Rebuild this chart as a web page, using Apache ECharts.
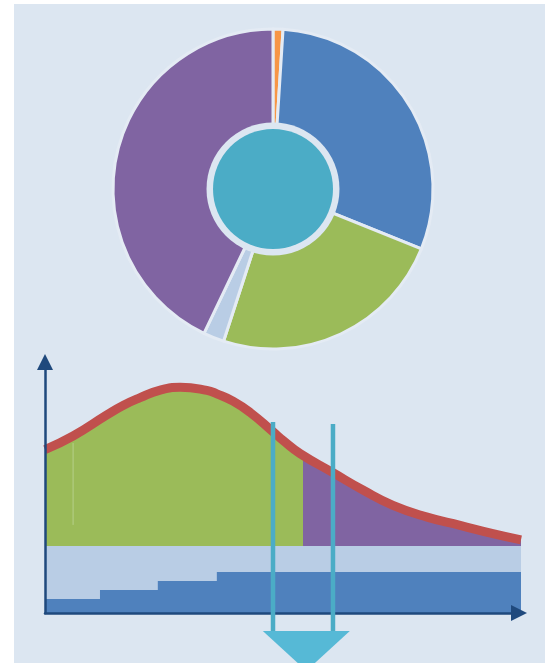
<!DOCTYPE html>
<html>
<head>
<meta charset="utf-8">
<script src="https://cdn.jsdelivr.net/npm/echarts@6/dist/echarts.min.js"></script>
<style>
  html, body { margin: 0; padding: 0; background: #ffffff; }
  #chart { width: 545px; height: 663px; }
</style>
</head>
<body>
<div id="chart"></div>
<script>
// Ring chart shares (percent of the full circle, clockwise from 12 o'clock)
const sliceNames = ['Segment A', 'Segment B', 'Segment C', 'Segment D', 'Segment E'];
const sliceValues = [1.0, 30.1, 23.9, 2.1, 42.9];

// Distribution curve (x on a 0-100 scale, y on a 0-100 scale)
const curveX = [0, 5.9, 13.0, 16.4, 20.0, 24.2, 28.4, 34.0, 36.1, 39.5, 43.1, 47.9, 50.1, 53.6, 60.5, 66.8, 73.1, 80.3, 87.2, 94.1, 100];
const curveY = [65.1, 70.5, 78.9, 82.7, 85.8, 88.8, 89.9, 88.7, 87.3, 84.4, 79.9, 72.2, 68.6, 63.5, 55.9, 49.0, 42.9, 38.2, 34.9, 31.6, 29.1];
const splitX = 54.2;            // where the fill changes from green to purple

// Base band and the stepped level beneath the curve
const bandLevel = 26.7;
const stepX = [0, 11.55, 23.7, 36.1, 100];
const stepY = [5.6, 9.2, 12.7, 16.3, 16.3];

// Guide line inside the fill
const guideX = 5.9;
const guideRange = [67.7, 35.1];

// Vertical markers and the pointer below the axis
const markerX = [47.9, 60.5];
const markerTop = [76.1, 75.3];
const markerBottom = -7.6;
const pointerAt = [54.9, -15.1];

const palette = {
  bg: '#DCE6F1',
  gap: '#E4EBF4',
  slices: ['#F79646', '#4F81BD', '#9BBB59', '#B9CDE5', '#8064A2'],
  teal: '#4BACC6',
  pointer: '#56B9D6',
  red: '#C0504D',
  green: '#9BBB59',
  purple: '#8064A2',
  lightBlue: '#B9CDE5',
  blue: '#4F81BD',
  axis: '#1F497D',
  guide: '#B6D08A'
};

const X_MIN = 0, X_MAX = 100;
const SMOOTH = 0.5;
const curveData = curveX.map((x, i) => [x, curveY[i]]);
const stepData = stepX.map((x, i) => [x, stepY[i]]);

// Horizontal fill: green up to splitX, purple after it (offset relative to the area's own box)
const splitOffset = (splitX - X_MIN) / (X_MAX - X_MIN);
const areaFill = new echarts.graphic.LinearGradient(0, 0, 1, 0, [
  { offset: 0, color: palette.green },
  { offset: splitOffset, color: palette.green },
  { offset: splitOffset, color: palette.purple },
  { offset: 1, color: palette.purple }
]);

const chart = echarts.init(document.getElementById('chart'), null, { renderer: 'canvas' });

const axisLineStyle = { color: palette.axis, width: 2.5 };

chart.setOption({
  animation: false,
  backgroundColor: '#ffffff',
  graphic: [{
    type: 'rect',
    left: 14, top: 4, z: -10, silent: true,
    shape: { width: 531, height: 659 },
    style: { fill: palette.bg }
  }],
  grid: { left: 45, right: 24, top: 362, bottom: 50, outerBoundsMode: 'none' },
  xAxis: {
    type: 'value', min: X_MIN, max: X_MAX, z: 10,
    axisLine: { show: true, onZero: false, lineStyle: axisLineStyle, symbol: ['none', 'triangle'], symbolSize: [16, 16], symbolOffset: [0, -2] },
    axisTick: { show: false }, axisLabel: { show: false }, splitLine: { show: false }
  },
  yAxis: {
    type: 'value', min: 0, max: 100, z: 10,
    axisLine: { show: true, onZero: false, lineStyle: axisLineStyle, symbol: ['none', 'triangle'], symbolSize: [16, 16] },
    axisTick: { show: false }, axisLabel: { show: false }, splitLine: { show: false }
  },
  series: [
    // Ring chart
    {
      type: 'pie', center: [273, 189], radius: [0, 160],
      startAngle: 90, clockwise: true, silent: true,
      label: { show: false }, labelLine: { show: false },
      itemStyle: { borderColor: palette.gap, borderWidth: 3 },
      data: sliceNames.map((n, i) => ({ name: n, value: sliceValues[i], itemStyle: { color: palette.slices[i] } }))
    },
    // Hub: light collar and teal disc
    {
      type: 'pie', center: [273, 189], radius: [0, 66.5], silent: true,
      label: { show: false }, labelLine: { show: false },
      data: [{ value: 1, itemStyle: { color: palette.bg } }]
    },
    {
      type: 'pie', center: [273, 189], radius: [0, 60], silent: true,
      label: { show: false }, labelLine: { show: false },
      data: [{ value: 1, itemStyle: { color: palette.teal } }]
    },
    // Filled area under the curve
    {
      type: 'line', data: curveData, smooth: SMOOTH, showSymbol: false, silent: true, z: 2,
      lineStyle: { width: 0 },
      areaStyle: { color: areaFill, opacity: 1 }
    },
    // Guide line inside the fill
    {
      type: 'line', data: [[guideX, guideRange[0]], [guideX, guideRange[1]]],
      showSymbol: false, silent: true, z: 3,
      lineStyle: { color: palette.guide, width: 1 }
    },
    // Base band
    {
      type: 'line', data: [[X_MIN, bandLevel], [X_MAX, bandLevel]], showSymbol: false, silent: true, z: 4,
      lineStyle: { width: 0 },
      areaStyle: { color: palette.lightBlue, opacity: 1 }
    },
    // Stepped level
    {
      type: 'line', data: stepData, step: 'end', showSymbol: false, silent: true, z: 5,
      lineStyle: { width: 0 },
      areaStyle: { color: palette.blue, opacity: 1 }
    },
    // Curve outline
    {
      type: 'line', data: curveData, smooth: SMOOTH, showSymbol: false, silent: true, z: 6,
      lineStyle: { color: palette.red, width: 9, cap: 'butt', join: 'round' }
    },
    // Vertical markers
    ...markerX.map((x, i) => ({
      type: 'line', data: [[x, markerTop[i]], [x, markerBottom]], clip: false,
      showSymbol: false, silent: true, z: 12,
      lineStyle: { color: palette.teal, width: 4.5, cap: 'butt' }
    })),
    // Pointer below the axis
    {
      type: 'scatter', data: [pointerAt], clip: false, silent: true, z: 12,
      symbol: 'triangle', symbolRotate: 180, symbolSize: [87, 40],
      itemStyle: { color: palette.pointer, opacity: 1 }
    }
  ]
});
</script>
</body>
</html>
